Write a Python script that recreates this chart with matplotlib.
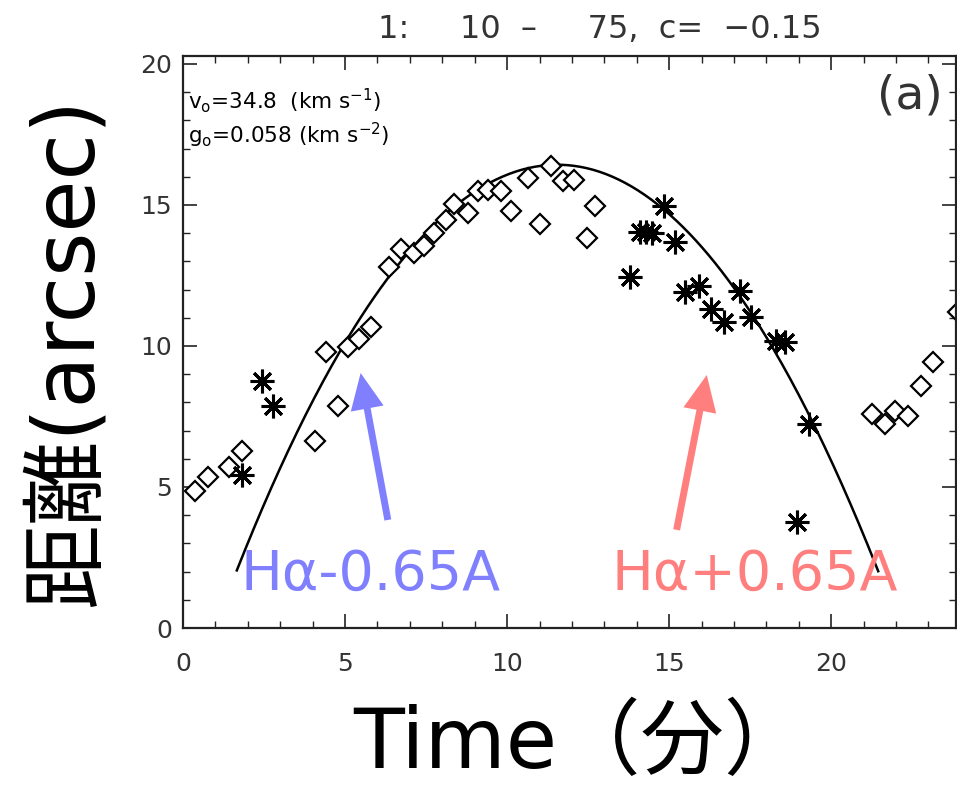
import numpy as np
import matplotlib
matplotlib.use("Agg")
import matplotlib.pyplot as plt

# diamonds (H-alpha -0.65A)
blue_t = [0.37, 0.77, 1.42, 1.83, 4.06, 4.40, 4.77, 5.08, 5.42, 5.79, 6.35, 6.72, 7.12,
          7.43, 7.74, 8.11, 8.36, 8.79, 9.10, 9.41, 9.81, 10.12, 10.65, 11.00, 11.36,
          11.73, 12.07, 12.48, 12.72,
          21.27, 21.67, 21.98, 22.38, 22.76, 23.13, 23.90]
blue_d = [4.84, 5.37, 5.70, 6.27, 6.62, 9.79, 7.87, 9.96, 10.25, 10.68, 12.80, 13.45, 13.30,
          13.56, 13.99, 14.45, 15.05, 14.70, 15.48, 15.52, 15.48, 14.80, 15.94, 14.34, 16.37,
          15.84, 15.87, 13.84, 14.95,
          7.58, 7.22, 7.69, 7.51, 8.58, 9.43, 11.20]

# asterisks (H-alpha +0.65A)
red_t = [1.83, 2.45, 2.79, 13.78, 14.10, 14.30, 14.48, 14.83, 15.17, 15.48, 15.91, 16.28,
         16.69, 17.18, 17.52, 18.30, 18.58, 18.95, 19.32]
red_d = [5.44, 8.75, 7.87, 12.45, 14.05, 14.05, 14.02, 14.95, 13.70, 11.92, 12.14, 11.32,
         10.85, 11.96, 11.03, 10.18, 10.14, 3.77, 7.22]

# ballistic fit (from the annotation)
v0 = 34.8      # km/s
g0 = 0.058     # km/s^2
km_per_arcsec = 710.0
t_launch = 1.55
d_launch = 1.72
t_first, t_last = 1.66, 21.45

plt.rcParams['font.family'] = ['DejaVu Sans', 'Noto Sans CJK JP']

fig = plt.figure(figsize=(9.57, 7.96), dpi=100)
ax = fig.add_axes([183/957, 1 - 628/796, (956 - 183)/957, (628 - 56)/796])

tt = np.linspace(t_first, t_last, 300)
tau = (tt - t_launch) * 60
dd = d_launch + (v0 * tau - 0.5 * g0 * tau**2) / km_per_arcsec
ax.plot(tt, dd, color='black', lw=1.8)

ax.plot(blue_t, blue_d, ls='none', marker='D', ms=10, mfc='white', mec='black', mew=1.6)
ax.plot(red_t, red_d, ls='none', marker=(8, 2, 0), ms=17, mec='black', mew=2.2)

ax.set_xlim(0, 23.85)
ax.set_ylim(0, 20.28)
ax.set_xticks([0, 5, 10, 15, 20])
ax.set_yticks([0, 5, 10, 15, 20])
ax.set_xticks(np.arange(0, 24, 1), minor=True)
ax.set_yticks(np.arange(0, 21, 1), minor=True)
ax.tick_params(which='both', direction='in', top=True, right=True, color='#222222')
ax.tick_params(which='major', length=10, width=1.2, labelsize=18, labelcolor='#333333')
ax.tick_params(which='minor', length=5, width=1.0)
ax.tick_params(axis='x', pad=17)
ax.tick_params(axis='y', pad=8)
for s in ax.spines.values():
    s.set_linewidth(1.6)
    s.set_color('#222222')

ax.text(0.16, 18.69, r'v$_{\rm o}$=34.8  (km s$^{-1}$)', fontsize=15.5, va='center', ha='left')
ax.text(0.16, 17.45, r'g$_{\rm o}$=0.058 (km s$^{-2}$)', fontsize=15.5, va='center', ha='left')
ax.text(23.45, 18.85, '(a)', fontsize=34, va='center', ha='right', color='#333333')

fig.text(600/957, 1 - 30/796, '1:     10  \u2013     75,  c=  \u22120.15', fontsize=23,
         ha='center', va='center', color='#333333')

# colored overlays
ax.annotate('', xy=(5.48, 9.04), xytext=(6.32, 3.83),
            arrowprops=dict(facecolor='#8080ff', edgecolor='none', width=5, headwidth=24, headlength=26))
ax.annotate('', xy=(16.16, 8.97), xytext=(15.23, 3.48),
            arrowprops=dict(facecolor='#ff7f7f', edgecolor='none', width=5, headwidth=24, headlength=26))
ax.text(1.76, 1.35, 'H\u03b1-0.65A', fontsize=40, color='#8080ff', ha='left', va='baseline')
ax.text(13.22, 1.35, 'H\u03b1+0.65A', fontsize=40, color='#ff7f7f', ha='left', va='baseline')

fig.text(68/957, 1 - 352/796, '距離(arcsec)', fontsize=61, rotation=90,
         ha='center', va='center', color='black')
fig.text(580/957, 1 - 745/796, 'Time（分）', fontsize=60,
         ha='center', va='center', color='black')

fig.savefig('out.png', dpi=100)
